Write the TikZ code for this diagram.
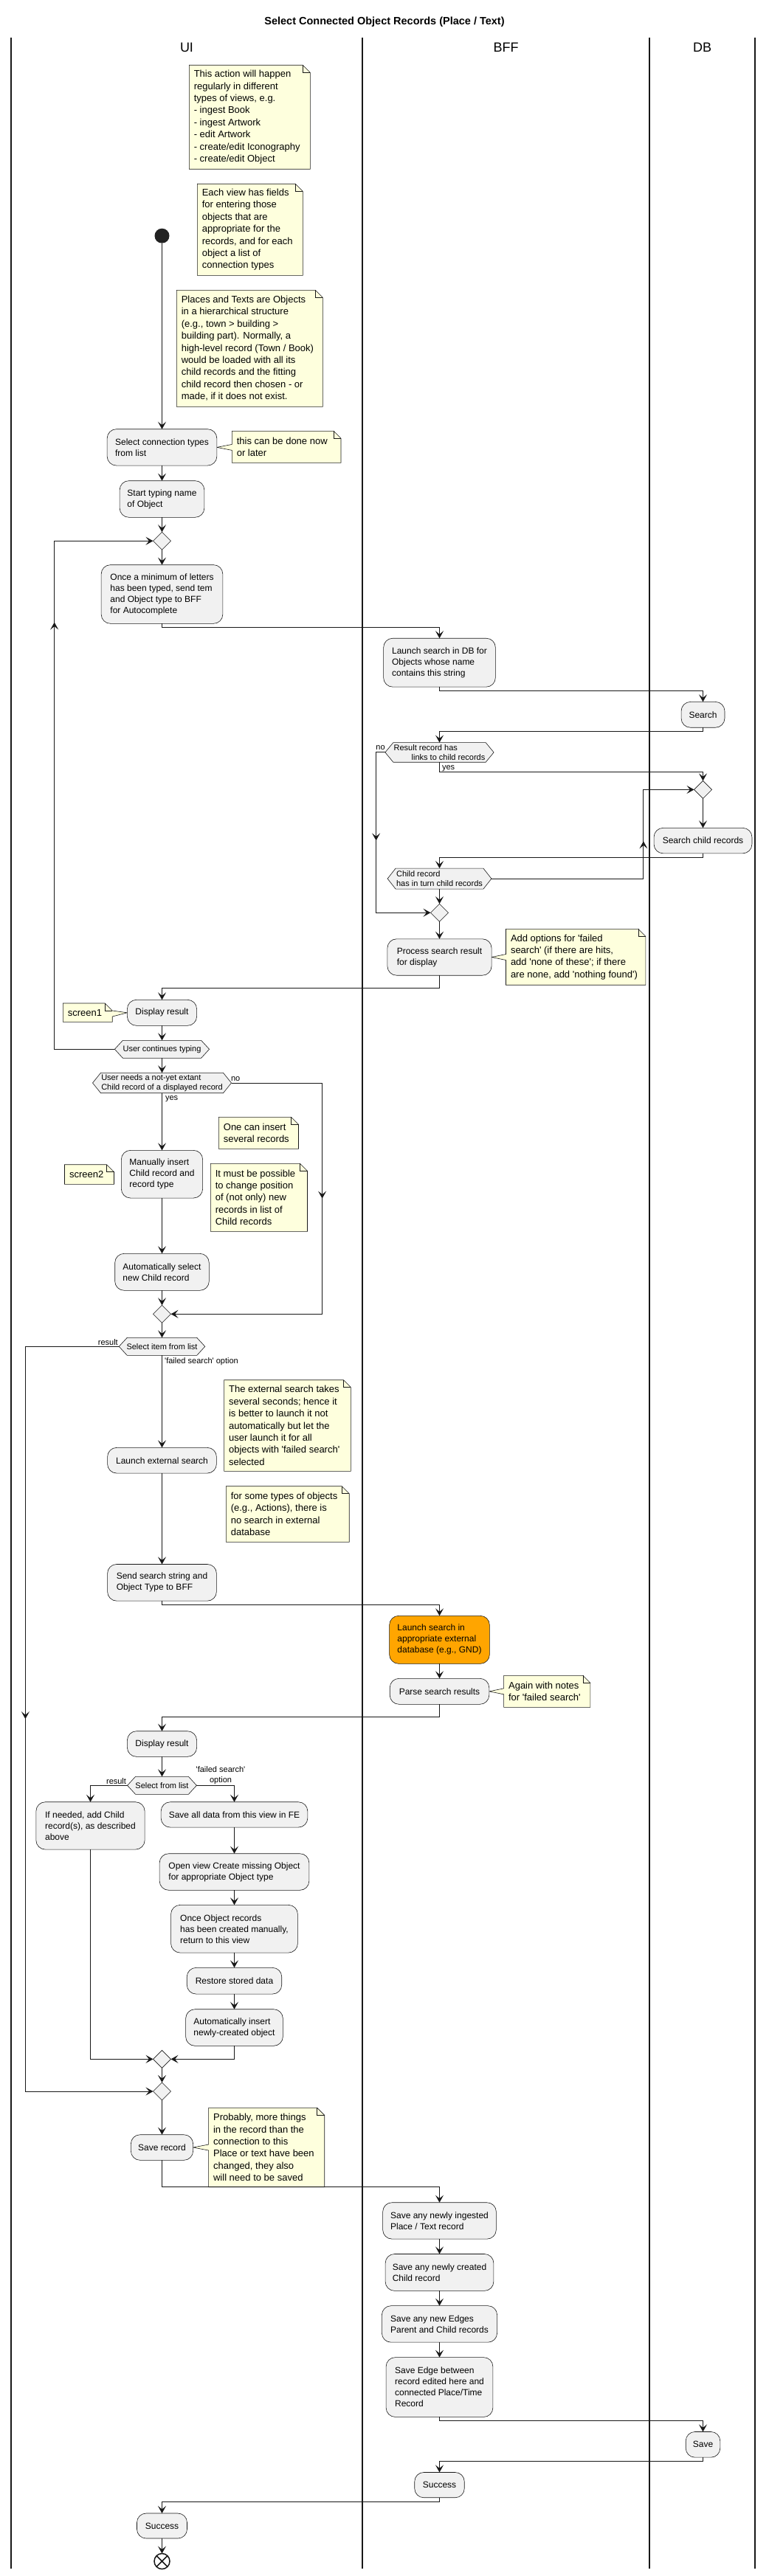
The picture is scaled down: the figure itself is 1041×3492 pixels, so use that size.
\documentclass[tikz,border=0pt]{standalone}
\usepackage{fontspec}
\setmainfont{Liberation Sans}
\newfontfamily\pl{Liberation Sans}
\usetikzlibrary{arrows.meta,shapes.geometric,backgrounds,decorations.markings,calc}

\definecolor{actfill}{HTML}{F1F1F1}
\definecolor{linec}{HTML}{181818}
\definecolor{notefill}{HTML}{FEFFDD}
\definecolor{orangefill}{HTML}{FFA500}
\definecolor{startc}{HTML}{222222}

\tikzset{
  every node/.style={inner sep=0pt, outer sep=0pt},
  act/.style={rectangle, rounded corners=12.5pt, fill=actfill, draw=linec, line width=0.6pt, align=left, font=\pl\fontsize{12}{15}\selectfont},
  hextext/.style={rectangle, align=left, font=\pl\fontsize{11}{13.5}\selectfont},
  hexshape/.style={fill=actfill, draw=linec, line width=0.6pt},
  noteshape/.style={fill=notefill, draw=linec, line width=0.6pt},
  notetext/.style={align=left, font=\pl\fontsize{13}{16.4}\selectfont},
  merge/.style={diamond, aspect=1, minimum width=24pt, minimum height=24pt, fill=actfill, draw=linec, line width=0.6pt},
  startnode/.style={circle, fill=startc, minimum size=20pt},
  stopnode/.style={circle, draw=linec, fill=white, line width=1.5pt, minimum size=21pt},
  stopx/.style={draw=linec, line width=1.5pt},
  lane/.style={draw=linec, line width=1.2pt},
  header/.style={font=\pl\fontsize{18}{21}\selectfont},
  lbl/.style={font=\pl\fontsize{11}{14}\selectfont, align=center},
  line/.style={draw=linec, line width=1pt},
  arr/.style={draw=linec, line width=1pt, -{Stealth[length=10pt,width=11pt,inset=4.5pt]}},
  midarr/.style={postaction={decorate}, decoration={markings, mark=at position #1 with {\arrow{Stealth[length=10pt,width=11pt,inset=4.5pt]}}}}
}

% hexagon decision: name, x, y, w, h, text
\newcommand\hexnode[6]{%
  \node[hextext, minimum width=#4, minimum height=#5] (#1) at (#2,#3) {#6};
  \begin{scope}[on background layer]
    \filldraw[hexshape] (#1.west) -- ([xshift=11pt]#1.north west) -- ([xshift=-11pt]#1.north east) -- (#1.east) -- ([xshift=-11pt]#1.south east) -- ([xshift=11pt]#1.south west) -- cycle;
  \end{scope}}

% plain note: name, x1, y1, x2, y2, text
\newcommand\notebox[6]{%
  \begin{scope}[on background layer]
    \filldraw[noteshape] (#2,#3) -- (#4-10,#3) -- (#4,#3+10) -- (#4,#5) -- (#2,#5) -- cycle;
  \end{scope}
  \draw[noteshape, fill=none] (#4-10,#3) -- (#4-10,#3+10) -- (#4,#3+10);
  \node[notetext, anchor=west] (#1) at (#2+6.5,{(#3+#5)/2}) {#6};}

% note with pointer on its left: name, x1, y1, x2, y2, target, text
\newcommand\notel[7]{%
  \coordinate (#1base) at (#6 -| #2,0);
  \begin{scope}[on background layer]
    \filldraw[noteshape] (#2,#3) -- (#4-10,#3) -- (#4,#3+10) -- (#4,#5) -- (#2,#5) -- ([yshift=-4pt]#1base) -- (#6) -- ([yshift=4pt]#1base) -- cycle;
  \end{scope}
  \draw[noteshape, fill=none] (#4-10,#3) -- (#4-10,#3+10) -- (#4,#3+10);
  \node[notetext, anchor=west] (#1) at (#2+6.5,{(#3+#5)/2}) {#7};}

% note with pointer on its right: name, x1, y1, x2, y2, target, text
\newcommand\noter[7]{%
  \begin{scope}[on background layer]
    \filldraw[noteshape] (#2,#3) -- (#4-10,#3) -- (#4,#3+10) -- (#6) -- (#4,#3+18) -- (#4,#5) -- (#2,#5) -- cycle;
  \end{scope}
  \draw[noteshape, fill=none] (#4-10,#3) -- (#4-10,#3+10) -- (#4,#3+10);
  \node[notetext, anchor=west] (#1) at (#2+6.5,{(#3+#5)/2}) {#7};}

\begin{document}
\begin{tikzpicture}[x=1pt,y=-1pt]
\useasboundingbox (0,0) rectangle (1041,3492);
\begin{scope}[on background layer]
\fill[white] (0,0) rectangle (1041,3492);
\end{scope}

% title and lanes
\node[font=\pl\bfseries\fontsize{14.5}{17}\selectfont] (title) at (521,30) {Select Connected Object Records (Place / Text)};
\coordinate (lane0t) at (15,51);   \coordinate (lane0b) at (15,3482);
\coordinate (lane1t) at (491,51);  \coordinate (lane1b) at (491,3482);
\coordinate (lane2t) at (880,51);  \coordinate (lane2b) at (880,3482);
\coordinate (lane3t) at (1023,51); \coordinate (lane3b) at (1023,3482);
\draw[lane] (lane0t) -- (lane0b);
\draw[lane] (lane1t) -- (lane1b);
\draw[lane] (lane2t) -- (lane2b);
\draw[lane] (lane3t) -- (lane3b);
\node[header] (hUI) at (253,64) {UI};
\node[header] (hBFF) at (685.5,64) {BFF};
\node[header] (hDB) at (951.5,64) {DB};

% top notes
\notebox{nA}{256.3}{88.3}{420.3}{229.3}{This action will happen\\regularly in different\\types of views, e.g.\\- ingest Book\\- ingest Artwork\\- edit Artwork\\- create/edit Iconography\\- create/edit Object}
\notebox{nB}{267.3}{249.3}{410.3}{373.3}{Each view has fields\\for entering those\\objects that are\\appropriate for the\\records, and for each\\object a list of\\connection types}
\notebox{nC}{239.3}{393.3}{437.3}{551.3}{Places and Texts are Objects\\in a hierarchical structure\\(e.g., town > building >\\building part). Normally, a\\high-level record (Town / Book)\\would be loaded with all its\\child records and the fitting\\child record then chosen - or\\made, if it does not exist.}

\node[startnode] (start) at (219.5,319.7) {};

% UI part 1
\node[act, minimum width=148.7, minimum height=49.3] (a1) at (219.5,606.4) {Select connection types\\from list};
\notel{nD}{314.3}{584.3}{462}{627.3}{a1.east}{this can be done now\\or later}
\node[act, minimum width=114.7, minimum height=49.6] (a2) at (219.5,676.5) {Start typing name\\of Object};
\node[merge] (m1) at (219.5,733.3) {};
\node[act, minimum width=164.7, minimum height=79.6] (a3) at (219.5,805.5) {Once a minimum of letters\\has been typed, send tem\\and Object type to BFF\\for Autocomplete};

% BFF / DB search
\node[act, minimum width=151.7, minimum height=65.9] (b1) at (595.5,898.2) {Launch search in DB for\\Objects whose name\\contains this string};
\node[act, minimum width=58.9, minimum height=34.8] (c1) at (952.5,968.8) {Search};
\hexnode{d1}{595.5}{1019.9}{147.2}{26.7}{Result record has\\\hspace*{24pt}links to child records}
\node[merge] (c2) at (952.5,1070.4) {};
\node[act, minimum width=132.9, minimum height=34.5] (c3) at (952.5,1139.6) {Search child records};
\hexnode{d2}{595.5}{1191.1}{140.8}{28}{Child record\\has in turn child records}
\node[merge] (m2) at (595.5,1237.2) {};
\node[act, minimum width=141.2, minimum height=49.4] (b2) at (595.5,1297.5) {Process search result\\for display};
\notel{nE}{685.5}{1259.4}{874.9}{1335.2}{b2.east}{Add options for 'failed\\search' (if there are hits,\\add 'none of these'; if there\\are none, add 'nothing found')}

% UI part 2
\node[act, minimum width=94.2, minimum height=35] (a4) at (219.5,1372.8) {Display result};
\noter{nS1}{85.3}{1360}{152.2}{1385.3}{a4.west}{screen1}
\hexnode{d3}{219.5}{1422.3}{128.2}{24}{User continues typing}
\hexnode{d4}{219.5}{1468}{188}{27.4}{User needs a not-yet extant\\Child record of a displayed record}
\notebox{nF}{296.4}{1514.3}{404.5}{1557.3}{One can insert\\several records}
\node[act, minimum width=110.3, minimum height=64.7] (a5) at (219.5,1591.7) {Manually insert\\Child record and\\record type};
\notebox{nS2}{87.5}{1578.7}{154.5}{1605.3}{screen2}
\notebox{nG}{285.3}{1577.3}{416.5}{1669.3}{It must be possible\\to change position\\of (not only) new\\records in list of\\Child records}
\node[act, minimum width=127.6, minimum height=50] (a6) at (219.5,1724.3) {Automatically select\\new Child record};
\node[merge] (m3) at (219.5,1781.3) {};
\hexnode{d5}{219.5}{1825.3}{116.5}{24}{Select item from list}
\node[act, minimum width=147.8, minimum height=34.7] (a7) at (219.5,1979.7) {Launch external search};
\notebox{nH}{303.6}{1870.7}{475.4}{1994.3}{The external search takes\\several seconds; hence it\\is better to launch it not\\automatically but let the\\user launch it for all\\objects with 'failed search'\\selected}
\notebox{nI}{306.3}{2014.7}{473.2}{2090.3}{for some types of objects\\(e.g., Actions), there is\\no search in external\\database}
\node[act, minimum width=147.8, minimum height=49.7] (a8) at (219.5,2145.3) {Send search string and\\Object Type to BFF};

% BFF external
\node[act, fill=orangefill, minimum width=135.7, minimum height=65] (b3) at (595.5,2222.8) {Launch search in\\appropriate external\\database (e.g., GND)};
\node[act, minimum width=134.6, minimum height=35] (b4) at (595.5,2292.8) {Parse search results};
\notel{nJ}{682.6}{2271.3}{799.8}{2314.3}{b4.east}{Again with notes\\for 'failed search'}

% UI part 3
\node[act, minimum width=94.2, minimum height=34.6] (a9) at (219.5,2364) {Display result};
\hexnode{d6}{219.5}{2420.3}{93.8}{24}{Select from list}
\node[act, minimum width=147.3, minimum height=64.3] (a10) at (122.5,2474.9) {If needed, add Child\\record(s), as described\\above};
\node[act, minimum width=198.7, minimum height=34.3] (a11) at (317.5,2459.9) {Save all data from this view in FE};
\node[act, minimum width=202.7, minimum height=49.6] (a12) at (317.5,2537.5) {Open view Create missing Object\\for appropriate Object type};
\node[act, minimum width=171.8, minimum height=64.7] (a13) at (317.5,2614.7) {Once Object records\\has been created manually,\\return to this view};
\node[act, minimum width=128.5, minimum height=35.7] (a14) at (317.5,2685.2) {Restore stored data};
\node[act, minimum width=131.7, minimum height=49.6] (a15) at (317.5,2748.5) {Automatically insert\\newly-created object};
\node[merge] (m4) at (219.5,2791.3) {};
\node[merge] (m5) at (219.5,2835) {};
\node[act, minimum width=84.3, minimum height=34.6] (a16) at (219.5,2911) {Save record};
\notel{nK}{282.6}{2857.3}{439.7}{2964.7}{a16.east}{Probably, more things\\in the record than the\\connection to this\\Place or text have been\\changed, they also\\will need to be saved}

% BFF save
\node[act, minimum width=153.7, minimum height=49.4] (b5) at (595.5,3010.4) {Save any newly ingested\\Place / Text record};
\node[act, minimum width=146.8, minimum height=49.9] (b6) at (595.5,3080.4) {Save any newly created\\Child record};
\node[act, minimum width=156.2, minimum height=49.5] (b7) at (595.5,3150.4) {Save any new Edges\\Parent and Child records};
\node[act, minimum width=144.8, minimum height=80.8] (b8) at (595.5,3236) {Save Edge between\\record edited here and\\connected Place/Time\\Record};
\node[act, minimum width=46.6, minimum height=34.7] (c4) at (952.5,3313.8) {Save};
\node[act, minimum width=67.5, minimum height=34.3] (b9) at (595.5,3368.6) {Success};
\node[act, minimum width=68, minimum height=34] (a17) at (219.5,3424) {Success};
\node[stopnode] (stopn) at (219.5,3472) {};
\draw[stopx] (stopn.45) -- (stopn.225) (stopn.135) -- (stopn.315);

% edge labels
\node[lbl] (lno1) at (515.6,1014) {no};
\node[lbl, anchor=west] (lyes1) at (599,1041.3) {yes};
\node[lbl] (lno2) at (319.2,1462.3) {no};
\node[lbl, anchor=west] (lyes2) at (224,1489.3) {yes};
\node[lbl, anchor=east] (lres1) at (159.8,1819.3) {result};
\node[lbl, anchor=west] (lfs1) at (223.2,1845.7) {'failed search' option};
\node[lbl, anchor=east] (lres2) at (171,2414.3) {result};
\node[lbl] (lfs2) at (299,2407) {'failed search'\\option};

% connectors
\draw[arr] (start.south) -- (a1.north);
\draw[arr] (a1.south) -- (a2.north);
\draw[arr] (a2.south) -- (m1.north);
\draw[arr] (m1.south) -- (a3.north);
\draw[arr] (a3.south) -- ++(0,5) -| (b1.north);
\draw[arr] (b1.south) -- ++(0,5.3) -| (c1.north);
\draw[arr] (c1.south) -- ++(0,5.3) -| (d1.north);
\coordinate (noA) at (d1.west -| 509.6,0);
\coordinate (noB) at (m2.west -| 509.6,0);
\draw[arr] (d1.west) -- (noA) -- (noB) -- (m2.west);
\draw[line, midarr=0.55] (noA) -- (noB);
\draw[arr] (d1.south) -- ++(0,13) -| (c2.north);
\draw[arr] (c2.south) -- (c3.north);
\draw[arr] (c3.south) -- ++(0,5.3) -| (d2.north);
\coordinate (bkA) at (d2.east -| 871.9,0);
\coordinate (bkB) at (c2.west -| 871.9,0);
\draw[arr] (d2.east) -- (bkA) -- (bkB) -- (c2.west);
\draw[line, midarr=0.42] (bkA) -- (bkB);
\draw[arr] (d2.south) -- (m2.north);
\draw[arr] (m2.south) -- (b2.north);
\draw[arr] (b2.south) -- ++(0,17.6) -| (a4.north);
\draw[arr] (a4.south) -- (d3.north);
\coordinate (lpA) at (d3.west -| 73.7,0);
\coordinate (lpB) at (m1.west -| 73.7,0);
\draw[arr] (d3.west) -- (lpA) -- (lpB) -- (m1.west);
\draw[line, midarr=0.84] (lpA) -- (lpB);
\draw[arr] (d3.south) -- (d4.north);
\coordinate (n2A) at (d4.east -| 436.6,0);
\coordinate (n2B) at (m3.east -| 436.6,0);
\draw[arr] (d4.east) -- (n2A) -- (n2B) -- (m3.east);
\draw[line, midarr=0.5] (n2A) -- (n2B);
\draw[arr] (d4.south) -- (a5.north);
\draw[arr] (a5.south) -- (a6.north);
\draw[arr] (a6.south) -- (m3.north);
\draw[arr] (m3.south) -- (d5.north);
\coordinate (rsA) at (d5.west -| 34.4,0);
\coordinate (rsB) at (m5.west -| 34.4,0);
\draw[arr] (d5.west) -- (rsA) -- (rsB) -- (m5.west);
\draw[line, midarr=0.5] (rsA) -- (rsB);
\draw[arr] (d5.south) -- (a7.north);
\draw[arr] (a7.south) -- (a8.north);
\draw[arr] (a8.south) -- ++(0,5) -| (b3.north);
\draw[arr] (b3.south) -- (b4.north);
\draw[arr] (b4.south) -- ++(0,17) -| (a9.north);
\draw[arr] (a9.south) -- (d6.north);
\draw[arr] (d6.west) -| (a10.north);
\draw[arr] (d6.east) -| (a11.north);
\draw[arr] (a11.south) -- (a12.north);
\draw[arr] (a12.south) -- (a13.north);
\draw[arr] (a13.south) -- (a14.north);
\draw[arr] (a14.south) -- (a15.north);
\draw[arr] (a10.south) |- (m4.west);
\draw[arr] (a15.south) |- (m4.east);
\draw[arr] (m4.south) -- (m5.north);
\draw[arr] (m5.south) -- (a16.north);
\draw[arr] (a16.south) -- ++(0,35.7) -| (b5.north);
\draw[arr] (b5.south) -- (b6.north);
\draw[arr] (b6.south) -- (b7.north);
\draw[arr] (b7.south) -- (b8.north);
\draw[arr] (b8.south) -- ++(0,5) -| (c4.north);
\draw[arr] (c4.south) -- ++(0,5.3) -| (b9.north);
\draw[arr] (b9.south) -- ++(0,5.3) -| (a17.north);
\draw[arr] (a17.south) -- (stopn.north);
\end{tikzpicture}
\end{document}
